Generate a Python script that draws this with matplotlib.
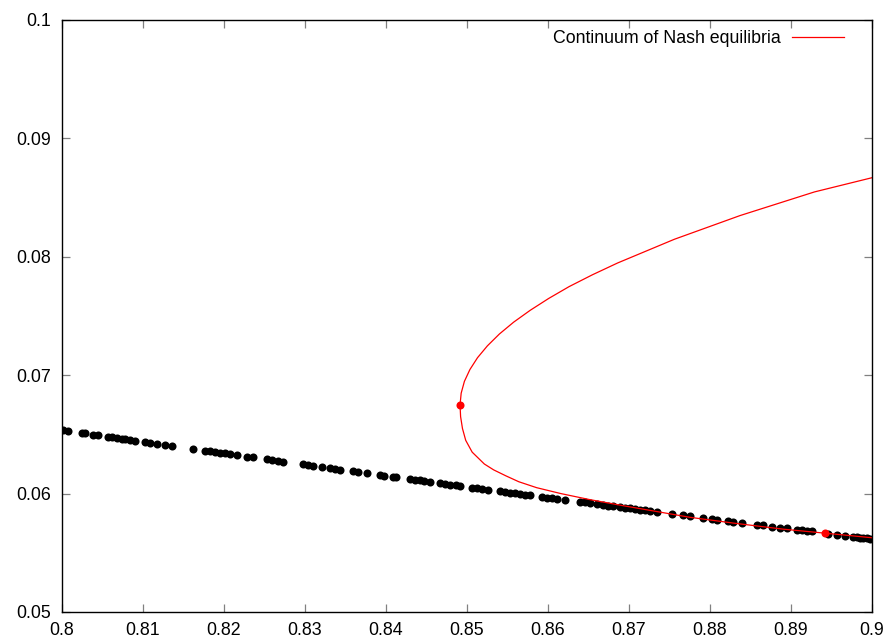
import matplotlib
matplotlib.use("Agg")
import matplotlib.pyplot as plt
from matplotlib.ticker import FuncFormatter, MultipleLocator

plt.rcParams['font.family'] = ['Liberation Sans', 'DejaVu Sans']

# sampled states (black dots)
sample_x = [
    0.8001, 0.8007, 0.8025, 0.8028, 0.8038, 0.8044, 0.8057, 0.8062, 0.8068, 0.8074,
    0.8078, 0.8084, 0.8090, 0.8103, 0.8109, 0.8117, 0.8127, 0.8136, 0.8162, 0.8177,
    0.8183, 0.8189, 0.8195, 0.8201, 0.8207, 0.8216, 0.8228, 0.8236, 0.8253, 0.8259,
    0.8267, 0.8273, 0.8298, 0.8304, 0.8310, 0.8321, 0.8331, 0.8337, 0.8343, 0.8359,
    0.8365, 0.8377, 0.8393, 0.8398, 0.8409, 0.8412, 0.8430, 0.8436, 0.8442, 0.8447,
    0.8454, 0.8467, 0.8473, 0.8479, 0.8486, 0.8491, 0.8506, 0.8512, 0.8519, 0.8526,
    0.8541, 0.8547, 0.8553, 0.8559, 0.8565, 0.8572, 0.8578, 0.8593, 0.8599, 0.8605,
    0.8611, 0.8621, 0.8640, 0.8646, 0.8652, 0.8661, 0.8668, 0.8674, 0.8680, 0.8689,
    0.8695, 0.8701, 0.8707, 0.8714, 0.8720, 0.8726, 0.8735, 0.8753, 0.8767, 0.8775,
    0.8791, 0.8803, 0.8809, 0.8822, 0.8828, 0.8840, 0.8858, 0.8865, 0.8877, 0.8886,
    0.8895, 0.8907, 0.8914, 0.8920, 0.8926, 0.8946, 0.8957, 0.8967, 0.8977, 0.8982,
    0.8985, 0.8989, 0.8994, 0.8998,
]
sample_y = [
    0.06536, 0.06530, 0.06512, 0.06509, 0.06499, 0.06493, 0.06481, 0.06476, 0.06470, 0.06463,
    0.06460, 0.06454, 0.06448, 0.06435, 0.06429, 0.06421, 0.06411, 0.06403, 0.06377, 0.06363,
    0.06357, 0.06351, 0.06345, 0.06339, 0.06333, 0.06325, 0.06313, 0.06306, 0.06289, 0.06283,
    0.06276, 0.06270, 0.06247, 0.06241, 0.06235, 0.06224, 0.06215, 0.06209, 0.06203, 0.06188,
    0.06182, 0.06172, 0.06157, 0.06152, 0.06142, 0.06138, 0.06122, 0.06116, 0.06111, 0.06106,
    0.06099, 0.06088, 0.06082, 0.06076, 0.06069, 0.06065, 0.06051, 0.06046, 0.06040, 0.06033,
    0.06020, 0.06014, 0.06008, 0.06003, 0.05997, 0.05992, 0.05986, 0.05973, 0.05967, 0.05961,
    0.05956, 0.05947, 0.05930, 0.05925, 0.05919, 0.05911, 0.05905, 0.05899, 0.05894, 0.05886,
    0.05881, 0.05875, 0.05870, 0.05864, 0.05859, 0.05853, 0.05846, 0.05829, 0.05817, 0.05810,
    0.05796, 0.05786, 0.05781, 0.05769, 0.05764, 0.05754, 0.05738, 0.05732, 0.05722, 0.05713,
    0.05706, 0.05696, 0.05690, 0.05685, 0.05680, 0.05663, 0.05653, 0.05645, 0.05637, 0.05632,
    0.05629, 0.05626, 0.05622, 0.05619,
]

# continuum of Nash equilibria (red curve), upper end -> turning point -> lower end
nash_x = [0.9000, 0.8929, 0.8837, 0.8756, 0.8686, 0.86548, 0.8626, 0.86008, 0.8578,
          0.85576, 0.8540, 0.85252, 0.8513, 0.85036, 0.84968, 0.84928, 0.84914,
          0.84921, 0.84944, 0.84984, 0.85064, 0.85214, 0.8533, 0.8548, 0.8564,
          0.8586, 0.8616, 0.8651, 0.8691, 0.8733, 0.8775, 0.8830, 0.8890, 0.8940,
          0.8966, 0.9000]
nash_y = [0.08668, 0.08548, 0.08348, 0.08148, 0.07948, 0.07848, 0.07748, 0.07648, 0.07548,
          0.07448, 0.07348, 0.07248, 0.07148, 0.07048, 0.06948, 0.06848, 0.06748,
          0.06650, 0.06550, 0.06450, 0.06350, 0.06250, 0.06200, 0.06150, 0.06100,
          0.06050, 0.06000, 0.05950, 0.05900, 0.05850, 0.05800, 0.05750, 0.05700, 0.05667,
          0.05650, 0.05627]

# marked equilibria (red dots)
mark_x = [0.8491, 0.8942]
mark_y = [0.0675, 0.0567]

fig = plt.figure(figsize=(8.9, 6.41), dpi=100)
ax = fig.add_axes([62 / 890, 29 / 641, 810 / 890, 592 / 641])

ax.plot(sample_x, sample_y, 'o', color='black', markersize=5.8, markeredgewidth=0)
ax.plot(nash_x, nash_y, '-', color='red', lw=0.9, label='Continuum of Nash equilibria')
ax.plot(mark_x, mark_y, 'o', color='red', markersize=5.8, markeredgewidth=0)

ax.set_xlim(0.8, 0.9)
ax.set_ylim(0.05, 0.1)
ax.xaxis.set_major_locator(MultipleLocator(0.01))
ax.yaxis.set_major_locator(MultipleLocator(0.01))
fmt = FuncFormatter(lambda v, p: f'{round(v, 4):g}')
ax.xaxis.set_major_formatter(fmt)
ax.yaxis.set_major_formatter(fmt)

ax.tick_params(direction='in', length=6, width=0.9, color='#808080',
               top=True, right=True, labelsize=12.8)
ax.tick_params(axis='x', pad=7)
ax.tick_params(axis='y', pad=8)
for s in ax.spines.values():
    s.set_linewidth(1.0)
    s.set_color('black')

ax.legend(loc='upper right', bbox_to_anchor=(0.985, 1.01), frameon=False,
          markerfirst=False, handlelength=2.9, fontsize=12.8, handletextpad=0.65)

fig.savefig('out.png', dpi=100)
